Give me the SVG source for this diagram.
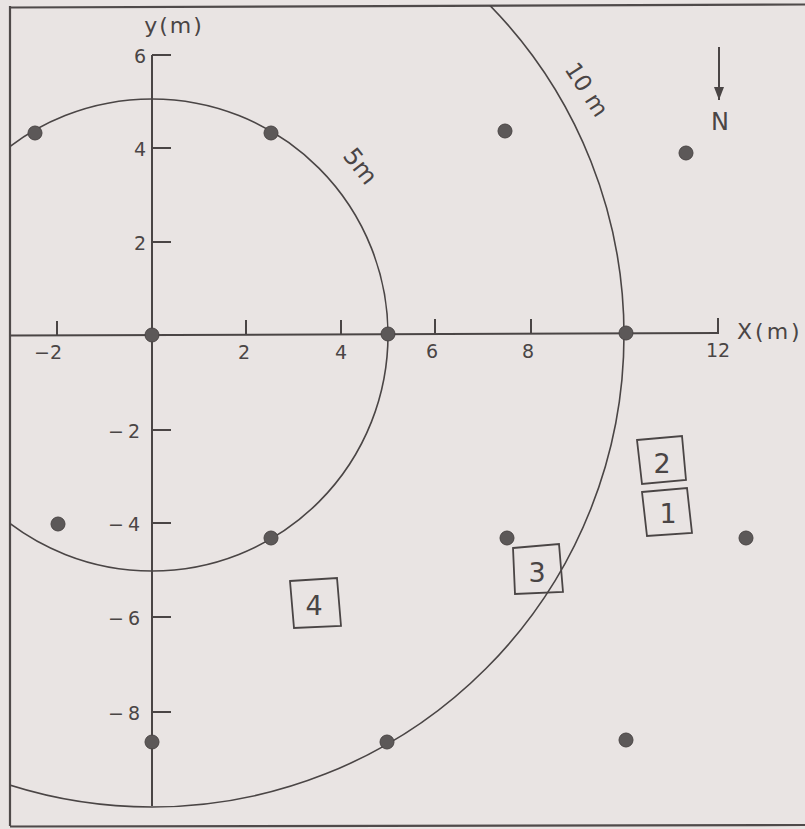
<svg xmlns="http://www.w3.org/2000/svg" width="805" height="829" viewBox="0 0 805 829">
<style>
.ln{stroke:#4a4545;fill:none;stroke-width:1.6}
.ax{stroke:#4a4545;fill:none;stroke-width:2}
.fr{stroke:#4f4a4a;fill:none;stroke-width:2.2}
.dot{fill:#5c5858;stroke:#4a4545;stroke-width:1}
.bx{stroke:#4a4545;fill:none;stroke-width:1.8}
.t{font-family:"DejaVu Sans","Liberation Sans",sans-serif;fill:#4a4545}
.tk{font-size:19px}
.bt{font-size:27px;text-anchor:middle}
</style>
<defs>
<clipPath id="frameclip"><rect x="10" y="6" width="795" height="819"/></clipPath>
<marker id="arr" markerWidth="14" markerHeight="12" refX="13" refY="6" orient="auto" markerUnits="userSpaceOnUse" viewBox="0 0 14 12">
<path d="M0,1 L13,6 L0,11 Z" fill="#4a4545"/>
</marker>
</defs>
<rect x="0" y="0" width="805" height="829" fill="#e9e4e3"/>
<g id="frame">
<line class="fr" x1="10" y1="7.5" x2="805" y2="4.5"/>
<line class="fr" x1="10" y1="6" x2="10" y2="826"/>
<line class="fr" x1="10" y1="826.5" x2="805" y2="825"/>
</g>
<g id="circles" clip-path="url(#frameclip)">
<circle id="circle-5m" class="ln" cx="152" cy="335" r="236"/>
<circle id="circle-10m" class="ln" cx="152" cy="335" r="472"/>
</g>
<g id="axes">
<line class="ax" x1="10" y1="335.5" x2="718" y2="333"/>
<line class="ax" x1="152" y1="55" x2="152" y2="806"/>
<g id="x-ticks">
<line class="ax" x1="57" y1="335" x2="57" y2="321"/>
<line class="ax" x1="246" y1="335" x2="246" y2="320"/>
<line class="ax" x1="341" y1="334" x2="341" y2="320"/>
<line class="ax" x1="435" y1="334" x2="435" y2="319"/>
<line class="ax" x1="531" y1="334" x2="531" y2="319"/>
<line class="ax" x1="718" y1="334" x2="718" y2="318"/>
</g>
<g id="y-ticks">
<line class="ax" x1="152" y1="55" x2="171" y2="55"/>
<line class="ax" x1="152" y1="148" x2="171" y2="148"/>
<line class="ax" x1="152" y1="242" x2="171" y2="242"/>
<line class="ax" x1="152" y1="430" x2="171" y2="430"/>
<line class="ax" x1="152" y1="523" x2="171" y2="523"/>
<line class="ax" x1="152" y1="617" x2="171" y2="617"/>
<line class="ax" x1="152" y1="712" x2="171" y2="712"/>
</g>
<g id="x-labels" class="t tk" text-anchor="middle">
<text x="48" y="359">−2</text>
<text x="244" y="359">2</text>
<text x="341" y="359">4</text>
<text x="432" y="358">6</text>
<text x="528" y="358">8</text>
<text x="718" y="357">12</text>
</g>
<g id="y-labels" class="t tk" text-anchor="end">
<text x="146" y="63">6</text>
<text x="146" y="156">4</text>
<text x="146" y="250">2</text>
<text x="144" y="438" letter-spacing="4">−2</text>
<text x="144" y="531" letter-spacing="4">−4</text>
<text x="144" y="625" letter-spacing="4">−6</text>
<text x="144" y="720" letter-spacing="4">−8</text>
</g>
<text class="t" x="174" y="33" font-size="22" letter-spacing="2" text-anchor="middle">y(m)</text>
<text class="t" x="737" y="339" font-size="22" letter-spacing="3">X(m)</text>
</g>
<g id="circle-labels" class="t">
<text x="342" y="156" font-size="24" transform="rotate(52 342 156)">5m</text>
<text x="564" y="69" font-size="23" transform="rotate(57 564 69)">10 m</text>
</g>
<g id="north">
<line class="ax" x1="719" y1="47" x2="719" y2="100" marker-end="url(#arr)"/>
<text class="t" x="720" y="130" font-size="24" text-anchor="middle">N</text>
</g>
<g id="points">
<circle class="dot" cx="35" cy="133" r="7"/>
<circle class="dot" cx="271" cy="133" r="7"/>
<circle class="dot" cx="505" cy="131" r="7"/>
<circle class="dot" cx="686" cy="153" r="7"/>
<circle class="dot" cx="152" cy="335" r="7"/>
<circle class="dot" cx="388" cy="334" r="7"/>
<circle class="dot" cx="626" cy="333" r="7"/>
<circle class="dot" cx="58" cy="524" r="7"/>
<circle class="dot" cx="271" cy="538" r="7"/>
<circle class="dot" cx="507" cy="538" r="7"/>
<circle class="dot" cx="746" cy="538" r="7"/>
<circle class="dot" cx="152" cy="742" r="7"/>
<circle class="dot" cx="387" cy="742" r="7"/>
<circle class="dot" cx="626" cy="740" r="7"/>
</g>
<g id="box-2">
<polygon class="bx" points="637,440 682,436 686,480 642,484"/>
<text class="t bt" x="662" y="473">2</text>
</g>
<g id="box-1">
<polygon class="bx" points="642,492 687,488 692,533 647,536"/>
<text class="t bt" x="668" y="523">1</text>
</g>
<g id="box-3">
<polygon class="bx" points="513,548 559,544 563,592 515,594"/>
<text class="t bt" x="537" y="582">3</text>
</g>
<g id="box-4">
<polygon class="bx" points="290,581 337,578 341,626 294,628"/>
<text class="t bt" x="314" y="615">4</text>
</g>
</svg>
